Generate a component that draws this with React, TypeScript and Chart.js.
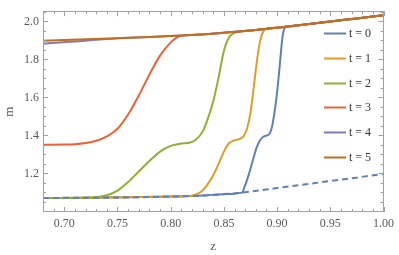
import React, { useEffect, useRef } from "react";
import { Chart, registerables } from "chart.js";
Chart.register(...registerables);

const seriesLabels = ["t=0", "t=1", "t=2", "t=3", "t=4", "t=5"];
const seriesColors = ["#5E81B5", "#E19C24", "#8FB032", "#EB6235", "#8778B3", "#C56E1A"];

const t0Z = [0.68, 0.72, 0.76, 0.8, 0.83, 0.85, 0.867, 0.8695, 0.872, 0.875, 0.878, 0.881, 0.884, 0.887, 0.8905, 0.893, 0.895, 0.897, 0.899, 0.901, 0.903, 0.905, 0.907, 0.91, 0.93, 0.95, 0.975, 1.0];
const t0M = [1.071, 1.072, 1.074, 1.078, 1.084, 1.091, 1.099, 1.13, 1.17, 1.225, 1.285, 1.34, 1.375, 1.393, 1.4, 1.41, 1.44, 1.5, 1.58, 1.68, 1.8, 1.915, 1.965, 1.973, 1.986, 2.0, 2.016, 2.033];

const t1Z = [0.68, 0.72, 0.76, 0.8, 0.815, 0.82, 0.825, 0.83, 0.835, 0.84, 0.845, 0.85, 0.855, 0.86, 0.865, 0.869, 0.872, 0.875, 0.878, 0.881, 0.884, 0.887, 0.89, 0.9, 0.93, 0.95, 0.975, 1.0];
const t1M = [1.071, 1.072, 1.074, 1.078, 1.081, 1.083, 1.092, 1.11, 1.145, 1.19, 1.25, 1.315, 1.36, 1.375, 1.382, 1.4, 1.44, 1.52, 1.65, 1.79, 1.895, 1.947, 1.962, 1.967, 1.986, 2.0, 2.016, 2.033];

const t2Z = [0.68, 0.7, 0.72, 0.73, 0.74, 0.75, 0.76, 0.77, 0.78, 0.79, 0.8, 0.81, 0.8175, 0.823, 0.83, 0.835, 0.84, 0.845, 0.85, 0.855, 0.86, 0.865, 0.88, 0.9, 0.93, 0.95, 0.975, 1.0];
const t2M = [1.071, 1.071, 1.072, 1.075, 1.085, 1.11, 1.155, 1.21, 1.265, 1.315, 1.345, 1.358, 1.362, 1.375, 1.42, 1.49, 1.58, 1.705, 1.845, 1.918, 1.94, 1.946, 1.955, 1.967, 1.986, 2.0, 2.016, 2.033];

const t3Z = [0.68, 0.7, 0.71, 0.72, 0.73, 0.74, 0.75, 0.76, 0.77, 0.78, 0.79, 0.8, 0.805, 0.81, 0.82, 0.83, 0.85, 0.88, 0.9, 0.93, 0.95, 0.975, 1.0];
const t3M = [1.351, 1.352, 1.354, 1.36, 1.372, 1.395, 1.435, 1.51, 1.61, 1.72, 1.82, 1.89, 1.912, 1.924, 1.929, 1.932, 1.94, 1.955, 1.967, 1.986, 2.0, 2.016, 2.033];

const t4Z = [0.68, 0.6955, 0.7142, 0.733, 0.75, 0.78, 0.8, 0.83, 0.85, 0.88, 0.9, 0.93, 0.95, 0.975, 1.0];
const t4M = [1.883, 1.889, 1.896, 1.905, 1.912, 1.918, 1.923, 1.932, 1.94, 1.955, 1.967, 1.986, 2.0, 2.016, 2.033];

const t5Z = [0.68, 0.7, 0.72, 0.75, 0.78, 0.8, 0.83, 0.85, 0.88, 0.9, 0.93, 0.95, 0.975, 1.0];
const t5M = [1.898, 1.902, 1.906, 1.912, 1.918, 1.923, 1.932, 1.94, 1.955, 1.967, 1.986, 2.0, 2.016, 2.033];

const lowerZ = [0.68, 0.72, 0.76, 0.8, 0.83, 0.85, 0.867, 0.9, 0.95, 1.0];
const lowerM = [1.071, 1.072, 1.074, 1.078, 1.084, 1.091, 1.099, 1.123, 1.16, 1.197];

const xTickLabels = [0.7, 0.75, 0.8, 0.85, 0.9, 0.95, 1.0];
const yTickLabels = [1.2, 1.4, 1.6, 1.8, 2.0];

const allZ = [t0Z, t1Z, t2Z, t3Z, t4Z, t5Z];
const allM = [t0M, t1M, t2M, t3M, t4M, t5M];

const FRAME = "#a0a0a0";
const TEXT = "#595959";
const SERIF = "'Liberation Serif', 'DejaVu Serif', serif";

const pts = (zs: number[], ms: number[]) => zs.map((z, i) => ({ x: z, y: ms[i] }));

const framePlugin = {
  id: "frameTicks",
  afterDraw(chart: any) {
    const { ctx, chartArea: a, scales } = chart;
    const xs = scales.x;
    const ys = scales.y;
    ctx.save();
    ctx.strokeStyle = FRAME;
    ctx.lineWidth = 1;
    ctx.strokeRect(Math.round(a.left) + 0.5, Math.round(a.top) + 0.5, Math.round(a.right - a.left) - 1, Math.round(a.bottom - a.top) - 1);
    ctx.beginPath();
    for (let i = 68; i <= 100; i++) {
      const v = i / 100;
      const major = i % 5 === 0;
      const len = major ? 5 : 3;
      const px = Math.round(xs.getPixelForValue(v)) + 0.5;
      ctx.moveTo(px, a.bottom);
      ctx.lineTo(px, a.bottom - len);
      ctx.moveTo(px, a.top);
      ctx.lineTo(px, a.top + len);
    }
    for (let i = 20; i <= 41; i++) {
      const v = i / 20;
      const major = i % 4 === 0;
      const len = major ? 5 : 3;
      const py = Math.round(ys.getPixelForValue(v)) + 0.5;
      if (py < a.top || py > a.bottom) continue;
      ctx.moveTo(a.left, py);
      ctx.lineTo(a.left + len, py);
      ctx.moveTo(a.right, py);
      ctx.lineTo(a.right - len, py);
    }
    ctx.stroke();

    // legend
    ctx.font = "12px " + SERIF;
    ctx.textBaseline = "middle";
    ctx.textAlign = "left";
    try { (ctx as any).letterSpacing = "3px"; } catch (e) {}
    for (let i = 0; i < seriesLabels.length; i++) {
      const y = Math.round(33 + i * 24.8) + 0.5;
      ctx.strokeStyle = seriesColors[i];
      ctx.lineWidth = 2;
      ctx.beginPath();
      ctx.moveTo(324, y);
      ctx.lineTo(346, y);
      ctx.stroke();
      ctx.fillStyle = "#333";
      ctx.fillText(seriesLabels[i], 349, y);
    }
    ctx.restore();
  },
};

export default function App() {
  const ref = useRef<HTMLCanvasElement>(null);
  useEffect(() => {
    document.body.style.margin = "0";
    const datasets: any[] = [];
    datasets.push({
      label: "unstable",
      data: pts(lowerZ, lowerM),
      borderColor: seriesColors[0],
      borderWidth: 2,
      borderDash: [6, 4],
      pointRadius: 0,
      fill: false,
      cubicInterpolationMode: "monotone",
      order: 0,
    });
    for (let i = 5; i >= 0; i--) {
      datasets.push({
        label: seriesLabels[i],
        data: pts(allZ[i], allM[i]),
        borderColor: seriesColors[i],
        borderWidth: 2,
        pointRadius: 0,
        fill: false,
        cubicInterpolationMode: "monotone",
        order: 6 - i,
      });
    }
    const chart = new Chart(ref.current!, {
      type: "line",
      data: { datasets },
      plugins: [framePlugin],
      options: {
        animation: false,
        responsive: false,
        devicePixelRatio: 1,
        layout: { padding: { top: 1, right: 13, left: 0, bottom: 0 } },
        plugins: { legend: { display: false }, tooltip: { enabled: false } },
        scales: {
          x: {
            type: "linear",
            min: 0.68,
            max: 1.0,
            afterFit: (s: any) => { s.height = 43; },
            afterBuildTicks: (s: any) => { s.ticks = xTickLabels.map((v) => ({ value: v })); },
            grid: { display: false, drawTicks: false },
            border: { display: false },
            ticks: {
              callback: (v: any) => Number(v).toFixed(2),
              font: { family: SERIF, size: 12 },
              color: TEXT,
              padding: 5,
              maxRotation: 0,
              autoSkip: false,
            },
            title: { display: true, text: "z", font: { family: SERIF, size: 13 }, color: TEXT, padding: { top: 0, bottom: 1 } },
          },
          y: {
            type: "linear",
            min: 0.997,
            max: 2.054,
            afterFit: (s: any) => { s.width = 43; },
            afterBuildTicks: (s: any) => { s.ticks = yTickLabels.map((v) => ({ value: v })); },
            grid: { display: false, drawTicks: false },
            border: { display: false },
            ticks: {
              callback: (v: any) => Number(v).toFixed(1),
              font: { family: SERIF, size: 12 },
              color: TEXT,
              padding: 4,
              autoSkip: false,
            },
            title: { display: true, text: "m", font: { family: SERIF, size: 13 }, color: TEXT, padding: { top: 2, bottom: 0 } },
          },
        },
      },
    });
    return () => chart.destroy();
  }, []);
  return (
    <div style={{ position: "fixed", left: 0, top: 0, width: 399, height: 255, background: "#fff" }}>
      <canvas ref={ref} width={399} height={255} style={{ width: 399, height: 255 }} />
    </div>
  );
}
